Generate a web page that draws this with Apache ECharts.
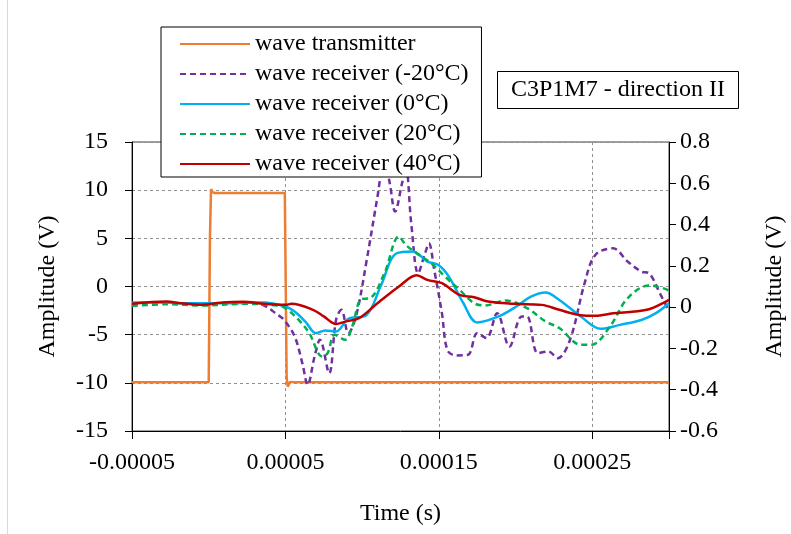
<!DOCTYPE html>
<html><head><meta charset="utf-8">
<script src="https://cdn.jsdelivr.net/npm/echarts@6/dist/echarts.min.js"></script>
<style>html,body{margin:0;padding:0;background:#fff}#c{width:791px;height:534px}</style>
</head><body><div id="c"></div>
<script>
// Time (s) and amplitude arrays
const txTime = [-50e-6, 0e-6, 0.8e-6, 1.5e-6, 2.5e-6, 4e-6, 20e-6, 49.6e-6, 50.2e-6, 50.8e-6, 51.5e-6, 53e-6, 56e-6, 60e-6, 300e-6];
const txVal  = [-9.95, -9.95, 5, 10.1, 9.8, 9.7, 9.7, 9.7, 0, -9.5, -10.4, -9.9, -9.95, -9.95, -9.95];

const m20Time = [-50e-6, -27.5e-6, -11e-6, 7e-6, 22.5e-6, 35e-6, 45e-6, 49e-6, 56e-6, 61e-6, 64.5e-6, 69e-6, 72.5e-6, 78.5e-6, 83e-6, 86.5e-6, 91e-6, 96e-6, 103e-6, 110e-6, 114.5e-6, 118e-6, 121.5e-6, 126e-6, 128.5e-6, 132e-6, 136.5e-6, 141e-6, 143.5e-6, 147e-6, 152e-6, 155.5e-6, 161e-6, 169e-6, 175e-6, 181e-6, 188e-6, 196e-6, 204e-6, 207.5e-6, 214.5e-6, 221.5e-6, 227.5e-6, 235.5e-6, 245e-6, 252e-6, 263.5e-6, 273e-6, 282e-6, 287e-6, 294e-6, 300e-6];
const m20Val  = [0.016, 0.022, 0.011, 0.019, 0.024, 0.011, -0.037, -0.061, -0.142, -0.271, -0.376, -0.239, -0.158, -0.32, -0.061, -0.013, -0.126, -0.045, 0.229, 0.535, 0.72, 0.6, 0.463, 0.6, 0.68, 0.406, 0.164, 0.261, 0.309, 0.18, -0.029, -0.207, -0.234, -0.231, -0.126, -0.15, -0.029, -0.191, -0.045, -0.045, -0.223, -0.215, -0.247, -0.158, 0.116, 0.253, 0.285, 0.221, 0.172, 0.164, 0.068, -0.02];

const p0Time = [-50e-6, -34.5e-6, -11e-6, 7.5e-6, 35.5e-6, 50e-6, 56e-6, 63e-6, 70e-6, 76e-6, 83e-6, 91e-6, 103e-6, 112e-6, 122.5e-6, 133e-6, 142.5e-6, 149.5e-6, 156.5e-6, 166e-6, 175e-6, 189e-6, 200.5e-6, 210e-6, 219.5e-6, 228.5e-6, 242.5e-6, 255.5e-6, 268e-6, 282e-6, 291.5e-6, 300e-6];
const p0Val  = [0.022, 0.022, 0.019, 0.019, 0.022, 0.003, -0.021, -0.07, -0.126, -0.113, -0.118, -0.057, -0.037, 0.1, 0.261, 0.27, 0.221, 0.205, 0.148, 0.019, -0.074, -0.045, 0.003, 0.051, 0.071, 0.035, -0.045, -0.105, -0.086, -0.062, -0.029, 0.019];

const p20Time = [-50e-6, -27.5e-6, -4e-6, 22.5e-6, 44.5e-6, 50e-6, 58.5e-6, 65.5e-6, 74e-6, 77.5e-6, 82e-6, 89e-6, 93.5e-6, 99.5e-6, 105e-6, 114.5e-6, 124e-6, 128.5e-6, 135.5e-6, 145e-6, 154e-6, 163.5e-6, 173e-6, 180e-6, 193.5e-6, 207.5e-6, 219.5e-6, 228.5e-6, 242.5e-6, 249.5e-6, 261.5e-6, 273e-6, 287e-6, 296e-6, 300e-6];
const p20Val  = [0.006, 0.014, 0.008, 0.016, 0.008, -0.005, -0.061, -0.126, -0.239, -0.223, -0.134, -0.158, -0.094, 0.039, 0.043, 0.164, 0.342, 0.301, 0.261, 0.213, 0.148, 0.084, 0.019, 0.008, 0.032, -0.005, -0.069, -0.101, -0.182, -0.182, -0.094, 0.043, 0.105, 0.092, 0.08];

const p40Time = [-50e-6, -27.5e-6, -18e-6, -4e-6, 7.5e-6, 22.5e-6, 35.5e-6, 50e-6, 54e-6, 68e-6, 75e-6, 83e-6, 89e-6, 98e-6, 110e-6, 124e-6, 135.5e-6, 142.5e-6, 152e-6, 163.5e-6, 173e-6, 182e-6, 198.5e-6, 217e-6, 228.5e-6, 242.5e-6, 252e-6, 263.5e-6, 277.5e-6, 287e-6, 296e-6, 300e-6];
const p40Val  = [0.016, 0.027, 0.019, 0.011, 0.021, 0.026, 0.016, 0.011, 0.016, -0.013, -0.045, -0.082, -0.07, -0.053, 0.019, 0.1, 0.155, 0.132, 0.116, 0.059, 0.048, 0.027, 0.016, 0.011, -0.013, -0.039, -0.042, -0.03, -0.021, -0.01, 0.019, 0.035];

const seriesNames = ['wave transmitter', 'wave receiver (-20°C)', 'wave receiver (0°C)', 'wave receiver (20°C)', 'wave receiver (40°C)'];
const leftTicks = {min: -15, max: 15, step: 5};
const rightTicks = {min: -0.6, max: 0.8, step: 0.2};
const xTicks = {min: -0.00005, max: 0.0003, step: 0.0001};

const zip = (a, b) => a.map((t, i) => [t, b[i]]);
const FONT = 'Liberation Serif';
const txt = {fontFamily: FONT, fontSize: 24, color: '#000'};

const chart = echarts.init(document.getElementById('c'), null, {renderer: 'canvas'});
const mk = (name, data, color, dashed, yIdx, smooth) => ({
  name, type: 'line', data, yAxisIndex: yIdx, showSymbol: false, symbol: 'none',
  smooth: smooth, animation: false,
  lineStyle: {color, width: 2.5, type: dashed ? [6, 4] : 'solid'},
  itemStyle: {color}
});
chart.setOption({
  animation: false,
  backgroundColor: '#fff',
  graphic: [{
    type: 'line', z: 0, shape: {x1: 7.5, y1: 0, x2: 7.5, y2: 534},
    style: {stroke: '#d9d9d9', lineWidth: 1}
  }],
  grid: {left: 132, right: 122, top: 142, bottom: 103, outerBoundsMode: 'none', containLabel: false,
    show: true, borderColor: '#404040', borderWidth: 1, backgroundColor: 'transparent'},
  title: {
    text: 'C3P1M7 - direction II', left: 497, top: 71,
    padding: [7, 14], borderColor: '#000', borderWidth: 1, backgroundColor: '#fff',
    textStyle: {fontFamily: FONT, fontSize: 24, fontWeight: 'normal', color: '#000'}
  },
  legend: {
    orient: 'vertical', left: 161, top: 27, itemWidth: 70, itemHeight: 14, itemGap: 6,
    padding: [5, 13, 1, 18], borderColor: '#000', borderWidth: 1, backgroundColor: '#fff',
    itemStyle: {opacity: 0},
    textStyle: Object.assign({lineHeight: 24}, txt), data: seriesNames
  },
  xAxis: {
    type: 'value', min: xTicks.min, max: xTicks.max, interval: xTicks.step,
    name: 'Time (s)', nameLocation: 'middle', nameGap: 71, nameTextStyle: txt,
    axisLine: {onZero: false, lineStyle: {color: '#000', width: 1}},
    axisTick: {show: true, length: 8, lineStyle: {color: '#000'}},
    axisLabel: Object.assign({margin: 20, formatter: v => (v > 0.00029 ? '' : String(parseFloat(v.toFixed(6))))}, txt),
    splitLine: {show: true, lineStyle: {color: '#909090', type: [3, 3], width: 1}}
  },
  yAxis: [{
    type: 'value', min: leftTicks.min, max: leftTicks.max, interval: leftTicks.step,
    name: 'Amplitude (V)', nameLocation: 'middle', nameGap: 72, nameTextStyle: txt,
    axisLine: {show: true, onZero: false, lineStyle: {color: '#000', width: 1}},
    axisTick: {show: true, length: 7, lineStyle: {color: '#000'}},
    axisLabel: Object.assign({margin: 24}, txt),
    splitLine: {show: true, lineStyle: {color: '#909090', type: [3, 3], width: 1}}
  }, {
    type: 'value', position: 'right', min: rightTicks.min, max: rightTicks.max, interval: rightTicks.step,
    name: 'Amplitude (V)', nameLocation: 'middle', nameGap: 94, nameTextStyle: txt,
    axisLine: {show: true, onZero: false, lineStyle: {color: '#000', width: 1}},
    axisTick: {show: true, length: 7, lineStyle: {color: '#000'}},
    axisLabel: Object.assign({margin: 11, formatter: v => String(parseFloat(v.toFixed(1)))}, txt),
    splitLine: {show: false}
  }],
  series: [
    mk(seriesNames[0], zip(txTime, txVal), '#ED7D31', false, 0, false),
    mk(seriesNames[1], zip(m20Time, m20Val), '#7030A0', true, 1, 0.35),
    mk(seriesNames[2], zip(p0Time, p0Val), '#00B0F0', false, 1, 0.35),
    mk(seriesNames[3], zip(p20Time, p20Val), '#00B050', true, 1, 0.35),
    mk(seriesNames[4], zip(p40Time, p40Val), '#C00000', false, 1, 0.35)
  ]
});
</script></body></html>
